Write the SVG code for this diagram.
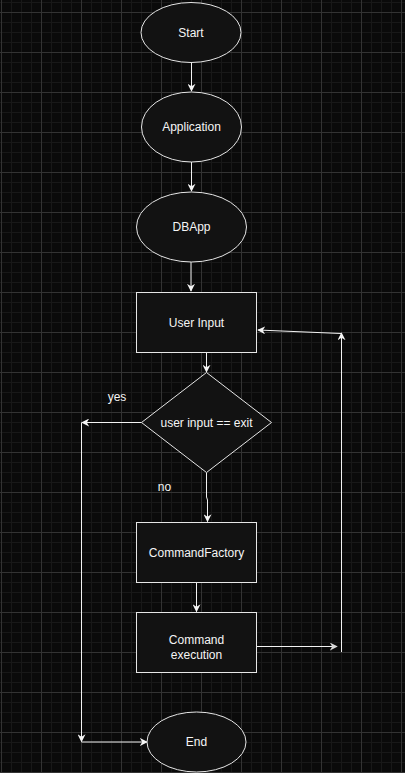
<svg xmlns="http://www.w3.org/2000/svg" width="405" height="773" viewBox="0 0 405 773">
  <defs>
    <pattern id="grid" x="1" y="12" width="40" height="40" patternUnits="userSpaceOnUse">
      <path d="M10.5 0V40M20.5 0V40M30.5 0V40M0 10.5H40M0 20.5H40M0 30.5H40" stroke="#181818" stroke-width="1" fill="none"/>
      <path d="M0.5 0V40M0 0.5H40" stroke="#333333" stroke-width="1" fill="none"/>
    </pattern>
    <marker id="arr" viewBox="0 0 10 10" refX="9" refY="5" markerWidth="8" markerHeight="8" markerUnits="userSpaceOnUse" orient="auto">
      <path d="M0 0L10 5L0 10L3 5z" fill="#f5f5f5"/>
    </marker>
    <marker id="arrg" viewBox="0 0 10 10" refX="9" refY="5" markerWidth="8" markerHeight="8" markerUnits="userSpaceOnUse" orient="auto">
      <path d="M0 0L10 5L0 10L3 5z" fill="#d8d8d8"/>
    </marker>
  </defs>
  <style>
    .shape { fill: #121212; stroke: #e6e6e6; stroke-width: 1; }
    .edge { fill: none; stroke: #f2f2f2; stroke-width: 1; }
    .lbl { font-family: "Liberation Sans", Arial, sans-serif; font-size: 12px; fill: #f5f5f5; text-anchor: middle; }
  </style>
  <rect x="0" y="0" width="405" height="773" fill="#0a0a0a"/>
  <rect x="0" y="0" width="405" height="773" fill="url(#grid)"/>

  <g id="connectors">
    <path class="edge" d="M191.5 62V91" marker-end="url(#arr)"/>
    <path class="edge" d="M191.5 162V191" marker-end="url(#arr)"/>
    <path class="edge" d="M191 262V291" marker-end="url(#arr)"/>
    <path class="edge" d="M206.5 352V372" marker-end="url(#arr)"/>
    <path class="edge" d="M141.5 422.5H82" marker-end="url(#arr)"/>
    <path class="edge" d="M81.5 422.5V741.5" marker-end="url(#arr)"/>
    <path class="edge" d="M81.5 742H147" marker-end="url(#arr)"/>
    <path class="edge" d="M206.5 472.5V497L207.5 500V521.5" marker-end="url(#arr)"/>
    <path class="edge" d="M196.5 582V611.5" marker-end="url(#arr)"/>
    <path class="edge" d="M257 646.5H337" stroke="#bdbdbd" marker-end="url(#arrg)"/>
    <path class="edge" d="M341.5 652V333" marker-end="url(#arr)"/>
    <path class="edge" d="M341 333.5L258 330" marker-end="url(#arr)"/>
    <text class="lbl" x="117" y="401">yes</text>
    <text class="lbl" x="164.5" y="491">no</text>
  </g>

  <g id="start">
    <ellipse class="shape" cx="191" cy="32.5" rx="50" ry="30"/>
    <text class="lbl" x="191" y="36.5">Start</text>
  </g>
  <g id="application">
    <ellipse class="shape" cx="191.5" cy="127" rx="50" ry="35"/>
    <text class="lbl" x="191.5" y="131">Application</text>
  </g>
  <g id="dbapp">
    <ellipse class="shape" cx="191.5" cy="227" rx="55" ry="35"/>
    <text class="lbl" x="191.5" y="231">DBApp</text>
  </g>
  <g id="user-input">
    <rect class="shape" x="136.5" y="292.5" width="120" height="60"/>
    <text class="lbl" x="196.5" y="326.5">User Input</text>
  </g>
  <g id="decision">
    <path class="shape" d="M206.5 372.5L271.5 422.5L206.5 472.5L141.5 422.5Z"/>
    <text class="lbl" x="206.5" y="426.5">user input == exit</text>
  </g>
  <g id="command-factory">
    <rect class="shape" x="136.5" y="522.5" width="120" height="60"/>
    <text class="lbl" x="196.5" y="556.5">CommandFactory</text>
  </g>
  <g id="command-execution">
    <rect class="shape" x="136.5" y="612.5" width="120" height="60"/>
    <text class="lbl" x="196.5" y="643.5">Command</text>
    <text class="lbl" x="196.5" y="658.5">execution</text>
  </g>
  <g id="end">
    <ellipse class="shape" cx="196.5" cy="742" rx="49.5" ry="30"/>
    <text class="lbl" x="196.5" y="746">End</text>
  </g>
</svg>
